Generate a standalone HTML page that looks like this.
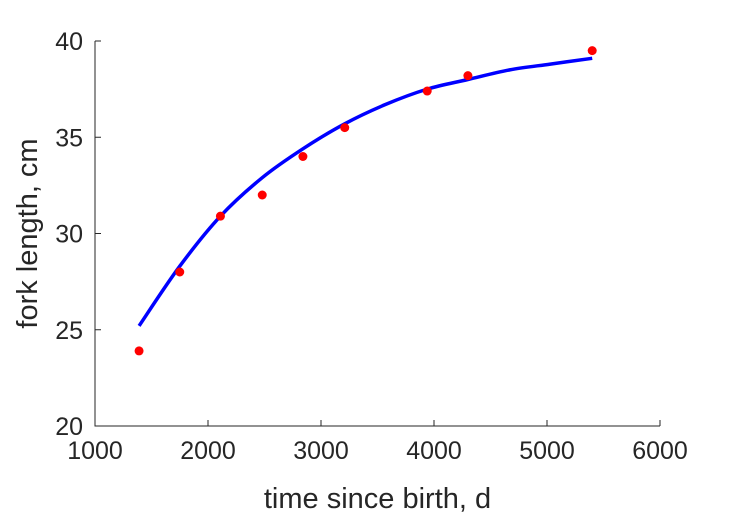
<!DOCTYPE html>
<html><head><meta charset="utf-8"><style>
body{margin:0;background:#fff}
svg{display:block;font-family:"Liberation Sans",sans-serif}
</style></head><body>
<svg id="chart" width="729" height="521"></svg>
<script>
const obsTime=[1390,1750,2110,2480,2840,3210,3940,4300,5400];
const obsLen=[23.9,28.0,30.9,32.0,34.0,35.5,37.4,38.2,39.5];
const fitTime=[1390,1750,2110,2480,2840,3210,3570,3940,4300,4670,5030,5400];
const fitLen=[25.2,28.3,30.9,32.9,34.4,35.7,36.7,37.5,38.0,38.5,38.8,39.1];
const xTicks=[1000,2000,3000,4000,5000,6000];
const yTicks=[20,25,30,35,40];
const L=95,R=660,T=41,B=426;
const sx=v=>L+(v-1000)/5000*(R-L);
const sy=v=>B-(v-20)/20*(B-T);
const svg=document.getElementById('chart');
const NS='http://www.w3.org/2000/svg';
function mk(t,a,p){const e=document.createElementNS(NS,t);for(const k in a)e.setAttribute(k,a[k]);(p||svg).appendChild(e);return e;}
const ax=mk('path',{d:`M${L},${T}V${B}H${R}`,stroke:'#262626',fill:'none','stroke-width':1});


xTicks.forEach(v=>{
  const x=sx(v);
  const tk=mk('line',{x1:x,x2:x,y1:B,y2:B-6,stroke:'#262626'});
  
  
  const t=mk('text',{x:x,y:B+33,'text-anchor':'middle','font-size':25,fill:'#262626'});
  t.textContent=v;
  
  
});
yTicks.forEach(v=>{
  const y=sy(v);
  const tk=mk('line',{x1:L,x2:L+6,y1:y,y2:y,stroke:'#262626'});
  
  
  const t=mk('text',{x:L-12,y:y+9,'text-anchor':'end','font-size':25,fill:'#262626'});
  t.textContent=v;
  
  
});
const xt=mk('text',{x:(L+R)/2,y:508,'text-anchor':'middle','font-size':29,fill:'#262626'});
xt.textContent='time since birth, d';


const yt=mk('text',{x:0,y:0,'text-anchor':'middle','font-size':29,fill:'#262626',transform:`translate(37,${(T+B)/2}) rotate(-90)`});
yt.textContent='fork length, cm';


// smooth fit curve (Catmull-Rom)
const P=fitTime.map((t,i)=>[sx(t),sy(fitLen[i])]);
let d=`M${P[0][0]},${P[0][1]}`;
for(let i=0;i<P.length-1;i++){
  const p0=P[Math.max(i-1,0)],p1=P[i],p2=P[i+1],p3=P[Math.min(i+2,P.length-1)];
  d+=`C${p1[0]+(p2[0]-p0[0])/6},${p1[1]+(p2[1]-p0[1])/6} ${p2[0]-(p3[0]-p1[0])/6},${p2[1]-(p3[1]-p1[1])/6} ${p2[0]},${p2[1]}`;
}
const fit=mk('path',{d:d,stroke:'#0000ff','stroke-width':3.5,fill:'none'});


obsTime.forEach((t,i)=>{
  const c=mk('circle',{cx:sx(t),cy:sy(obsLen[i]),r:4.5,fill:'#ff0000'});
  
  
});
</script>
</body></html>
